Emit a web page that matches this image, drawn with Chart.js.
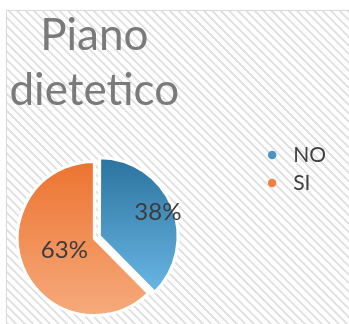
<!DOCTYPE html>
<html>
<head>
<meta charset="utf-8">
<script src="https://cdn.jsdelivr.net/npm/chart.js@4/dist/chart.umd.min.js"></script>
<style>
html,body{margin:0;padding:0;background:#fff;overflow:hidden;width:349px;height:324px}
#box{position:absolute;left:6px;top:10px;width:420px;height:420px;border:1px solid #d9d9d9;
  background:repeating-linear-gradient(45deg,#fff 0 3px,#e2e2e2 3.5px 5px,#fff 5.5px 6px)}
#c{position:absolute;left:0;top:0}
</style>
</head>
<body>
<div id="box"></div>
<canvas id="c" width="349" height="338"></canvas>
<script>
const titolo=['Piano','dietetico'];
const categorie=['NO','SI'];
const percentuali=[38,63];

// sfumature dall'alto verso il basso della torta
const sfumature=[['#2d74a0','#72c0ee'],['#ec7330','#f6aa7c']];
const colLegenda=['#4a93c4','#ef7f45'];
const RAGGIO=77, STACCO=73;

function riempimento(c){
  const a=c.chart.chartArea, s=sfumature[c.dataIndex]||sfumature[0];
  if(!a) return s[0];
  const cy=(a.top+a.bottom)/2;
  const g=c.chart.ctx.createLinearGradient(0,cy-RAGGIO,0,cy+RAGGIO);
  g.addColorStop(0,s[0]); g.addColorStop(1,s[1]);
  return g;
}

// spazio vuoto fra torta e legenda
const spazio={id:'spazio',beforeInit(chart){
  Chart.layouts.addBox(chart,{position:'right',weight:0,fullSize:false,options:{},
    left:0,top:0,right:0,bottom:0,width:0,height:0,
    isHorizontal(){return false;},
    update(w,h){this.width=STACCO;this.height=h;},
    draw(){}});
}};

// percentuali sulle fette
const etichette={id:'etichette',afterDatasetsDraw(chart,args,opts){
  const ctx=chart.ctx, ds=chart.data.datasets[0];
  ctx.save();
  ctx.font=opts.font; ctx.fillStyle=opts.color;
  ctx.textAlign='center'; ctx.textBaseline='middle';
  chart.getDatasetMeta(0).data.forEach((a,i)=>{
    const p=a.getProps(['x','y','startAngle','endAngle','outerRadius'],true);
    const m=(p.startAngle+p.endAngle)/2, r=p.outerRadius*opts.dist[i]+(ds.offset[i]||0)/4;
    ctx.fillText(ds.data[i]+'%',p.x+Math.cos(m)*r,p.y+Math.sin(m)*r);
  });
  ctx.restore();
}};

new Chart(document.getElementById('c'),{
  type:'pie',
  data:{labels:categorie,datasets:[{data:percentuali,backgroundColor:riempimento,
    borderColor:'#fff',borderWidth:3,offset:[22,0],radius:RAGGIO}]},
  options:{responsive:false,devicePixelRatio:1,animation:false,
    layout:{padding:{left:7,right:13,top:0,bottom:0}},
    plugins:{
      title:{display:true,text:titolo,fullSize:false,color:'#7a7a7a',
        font:{family:'Lato',size:44,weight:'normal',lineHeight:1.26},padding:{top:8,bottom:20}},
      legend:{position:'right',labels:{usePointStyle:true,pointStyle:'circle',boxWidth:21,boxHeight:6,
        padding:7,color:'#404040',font:{family:'Lato',size:21},
        generateLabels:ch=>Chart.overrides.pie.plugins.legend.labels.generateLabels(ch)
          .map((l,i)=>({...l,fillStyle:colLegenda[i],strokeStyle:colLegenda[i],lineWidth:0}))}},
      tooltip:{enabled:false},
      etichette:{font:'24px Lato',color:'#3c3c3c',dist:[0.82,0.42]}
    }},
  plugins:[spazio,etichette]
});
</script>
</body>
</html>
